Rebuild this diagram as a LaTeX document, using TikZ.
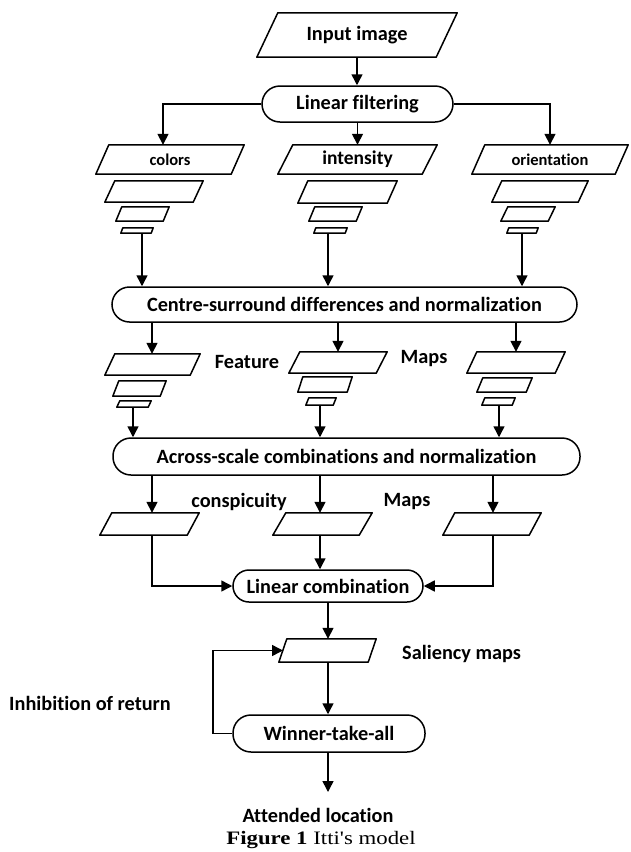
\documentclass[tikz,border=0pt]{standalone}
\usepackage{fontspec}
\setmainfont{Carlito}[Ligatures=NoCommon]
\newfontfamily\capfont{Liberation Serif}[FakeStretch=1.2]
\usetikzlibrary{arrows.meta,fit}
\tikzset{
  ln/.style={line width=1.5pt},
  arr/.style={ln,-{Triangle[length=11pt,width=11pt]}},
  box/.style={ln, line join=round},
  stad/.style={draw, ln, inner sep=0pt, rounded corners=#1},
  lbl/.style={font=\fontsize{20.3}{23}\selectfont\bfseries, inner sep=0pt},
  slbl/.style={font=\fontsize{16.5}{19}\selectfont\bfseries, inner sep=0pt},
  mlbl/.style={font=\fontsize{19.5}{22}\selectfont\bfseries, inner sep=0pt},
  caption/.style={font=\fontsize{19}{22}\capfont, inner sep=0pt},
}
% name, xl, xr, yt, yb, slant
\newcommand\para[6]{%
  \node[fit={(#2,#4) (#3,#5)}, inner sep=0pt] (#1) {};
  \draw[box] ([xshift=#6pt]#1.north west) -- (#1.north east) -- ([xshift=-#6pt]#1.south east) -- (#1.south west) -- cycle;}
% name, xl, xr, yt, yb, radius, text
\newcommand\stadium[7]{%
  \node[fit={(#2,#4) (#3,#5)}, stad=#6pt] (#1) {};
  \node[lbl] (#1T) at (#1.center) {#7};}
\begin{document}
\begin{tikzpicture}[x=1pt,y=-1pt]
\useasboundingbox (0,0) rectangle (630,852);
% x positions of connectors
\foreach \xx in {133,142,152,163,213,320,328,338,493,499,516,522,550}
  \coordinate (X\xx) at (\xx,0);

% top
\para{inp}{257}{457}{13}{57}{21}
\node[lbl] (inpT) at (inp.center) {Input image};
\stadium{lf}{262}{453}{86}{122}{18}{Linear filtering}

% three channels
\para{colors}{96}{244}{145}{174}{13}
\node[slbl] (colorsT) at (colors.center) {colors};
\para{intensity}{278}{437}{145}{174}{15}
\node[mlbl] (intensityT) at (intensity.center) {intensity};
\para{orientation}{472}{628}{145}{174}{13}
\node[slbl] (orientationT) at (orientation.center) {orientation};

\para{c2}{105}{203}{181}{202}{10}
\para{i2}{298}{397}{181}{203}{10}
\para{o2}{492}{588}{181}{202}{10}
\para{c3}{116}{169}{207}{221}{6}
\para{i3}{309}{362}{207}{221}{6}
\para{o3}{501}{555}{207}{221}{7}
\para{c4}{121}{153}{228}{233}{2}
\para{i4}{314}{347}{228}{233}{2}
\para{o4}{507}{538}{228}{233}{2}

\stadium{csd}{112}{577}{287}{322}{17.5}{Centre-surround differences and normalization}

% feature maps
\para{f1}{105}{200}{354}{375}{10}
\para{g1}{289}{387}{352}{373}{11}
\para{h1}{467}{565}{352}{373}{10}
\para{f2}{113}{166}{381}{396}{6}
\para{g2}{298}{352}{377}{392}{5}
\para{h2}{477}{532}{378}{392}{6}
\para{f3}{117}{151}{401}{407}{3}
\para{g3}{306}{336}{398}{405}{3}
\para{h3}{482}{515}{398}{405}{3}
\node[lbl] (feat) at (247,362) {Feature};
\node[lbl] (maps1) at (424,359) {Maps};

\stadium{acr}{113}{580}{438}{475}{18}{Across-scale combinations and normalization}

% conspicuity maps
\para{k1}{100}{199}{513}{535}{12}
\para{k2}{273}{372}{513}{535}{13}
\para{k3}{443}{541}{513}{535}{12}
\node[lbl] (consp) at (239,502) {conspicuity};
\node[lbl] (maps2) at (407,502) {Maps};

\stadium{lc}{233}{423}{570}{602}{16}{Linear combination}

\para{sal}{279}{376}{639}{662}{8}
\coordinate (salL) at (283,650.5);
\node[lbl, anchor=west] (salT) at (402,654) {Saliency maps};

\stadium{wta}{233}{425}{715}{752}{18}{Winner-take-all}
\node[lbl] (inh) at (90,703) {Inhibition of return};

\coordinate (attend) at (328,792);
\node[lbl] (att) at (318,815) {Attended location};
\node[caption] (cap) at (321,840) {\textbf{Figure 1} Itti's model};

% connectors
\draw[arr] (inp.south) -- (inp.south |- lf.north);
\draw[arr] (lf.west) -| (X163 |- colors.north);
\draw[arr] (lf.south) -- (lf.south |- intensity.north);
\draw[arr] (lf.east) -| (X550 |- orientation.north);

\draw[arr] (X142 |- c4.south) -- (X142 |- csd.north);
\draw[arr] (X328 |- i4.south) -- (X328 |- csd.north);
\draw[arr] (X522 |- o4.south) -- (X522 |- csd.north);

\draw[arr] (X152 |- csd.south) -- (X152 |- f1.north);
\draw[arr] (X338 |- csd.south) -- (X338 |- g1.north);
\draw[arr] (X516 |- csd.south) -- (X516 |- h1.north);

\draw[arr] (X133 |- f3.south) -- (X133 |- acr.north);
\draw[arr] (X320 |- g3.south) -- (X320 |- acr.north);
\draw[arr] (X499 |- h3.south) -- (X499 |- acr.north);

\draw[arr] (X152 |- acr.south) -- (X152 |- k1.north);
\draw[arr] (X320 |- acr.south) -- (X320 |- k2.north);
\draw[arr] (X493 |- acr.south) -- (X493 |- k3.north);

\draw[arr] (X152 |- k1.south) |- (lc.west);
\draw[arr] (X320 |- k2.south) -- (X320 |- lc.north);
\draw[arr] (X493 |- k3.south) |- (lc.east);

\draw[arr] (X328 |- lc.south) -- (X328 |- sal.north);
\draw[arr] (X328 |- sal.south) -- (X328 |- wta.north);
\draw[arr] (wta.west) -| (X213 |- salL) -- (salL);
\draw[arr] (X328 |- wta.south) -- (attend);
\end{tikzpicture}
\end{document}
